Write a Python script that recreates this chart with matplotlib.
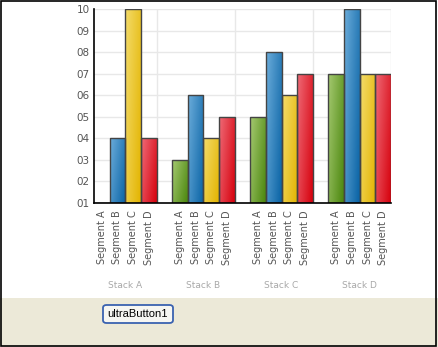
import numpy as np
import matplotlib
matplotlib.use('Agg')
import matplotlib.pyplot as plt
from matplotlib.patches import Rectangle, FancyBboxPatch
from matplotlib.colors import to_rgb
import matplotlib.transforms as mtransforms

# data
stacks = ['Stack A', 'Stack B', 'Stack C', 'Stack D']
segments = ['Segment A', 'Segment B', 'Segment C', 'Segment D']
seg_a = [0.1, 0.3, 0.5, 0.7]
seg_b = [0.4, 0.6, 0.8, 1.0]
seg_c = [1.0, 0.4, 0.6, 0.7]
seg_d = [0.4, 0.5, 0.7, 0.7]
yticks = [0.1, 0.2, 0.3, 0.4, 0.5, 0.6, 0.7, 0.8, 0.9, 1.0]
ytick_labels = ['01', '02', '03', '04', '05', '06', '07', '08', '09', '10']
ymin = 0.1

# light / dark ends of the bar gradients
shades = [('#a6ca72', '#4a860c'),
          ('#6caddb', '#0862a4'),
          ('#f4dc6c', '#e3b400'),
          ('#ef6c78', '#d6000c')]

W, H = 438, 347
fig = plt.figure(figsize=(W / 100, H / 100), dpi=100)
fig.patch.set_facecolor('white')

# beige strip at the bottom and the outer frame
fig.patches.append(Rectangle((0, 0), 1, (H - 298) / H, transform=fig.transFigure,
                             facecolor='#ece9d8', edgecolor='none', zorder=0))
fig.patches.append(Rectangle((0.5 / W, 1.5 / H), (W - 2.5) / W, (H - 2.5) / H,
                             transform=fig.transFigure, facecolor='none',
                             edgecolor='black', lw=1.2, zorder=5))

ax = fig.add_axes([94 / W, 1 - 203 / H, 297 / W, 194 / H])

grad = np.linspace(0, 1, 64)
gx, gy = np.meshgrid(grad, grad[::-1])
t = np.clip(0.65 * gx + 0.35 * (1 - gy), 0, 1)

series = [seg_a, seg_b, seg_c, seg_d]
for k, vals in enumerate(series):
    lo, hi = np.array(to_rgb(shades[k][0])), np.array(to_rgb(shades[k][1]))
    img = lo[None, None, :] * (1 - t[..., None]) + hi[None, None, :] * t[..., None]
    xs = [5 * g + k + 1.5 for g in range(len(stacks))]
    heights = [v - ymin for v in vals]
    bars = ax.bar(xs, heights, width=1.0, bottom=ymin, facecolor='none',
                  edgecolor='#444444', linewidth=1.0, zorder=3)
    for b in bars:
        if b.get_height() <= 0:
            continue
        x0, y0 = b.get_x(), b.get_y()
        im = ax.imshow(img, extent=(x0, x0 + b.get_width(), y0, y0 + b.get_height()),
                       aspect='auto', zorder=2, interpolation='bilinear')
        im.set_clip_path(b)

ax.set_xlim(1, 20)
ax.set_ylim(ymin, 1.0)
ax.set_yticks(yticks)
ax.set_yticklabels(ytick_labels)
ax.set_xticks([5 * g + k + 1.5 for g in range(4) for k in range(4)])
ax.set_xticklabels(segments * 4, rotation=90)
ax.tick_params(axis='both', length=0, colors='#555555', labelsize=7)
ax.tick_params(axis='y', pad=3, labelsize=7.5)
ax.tick_params(axis='x', pad=5)

for v in yticks:
    ax.axhline(v, color='#e8e8e8', lw=1, zorder=1)
for v in [5, 10, 15, 20]:
    ax.axvline(v, color='#e8e8e8', lw=1, zorder=1)

ax.spines['top'].set_visible(False)
ax.spines['right'].set_visible(False)
for s in ['left', 'bottom']:
    ax.spines[s].set_color('black')
    ax.spines[s].set_linewidth(1.2)
    ax.spines[s].set_zorder(4)

# group captions under the segment labels
trans = mtransforms.blended_transform_factory(ax.transData, fig.transFigure)
for g, name in enumerate(stacks):
    ax.text(5 * g + 3, 1 - 286 / H, name, transform=trans, ha='center',
            va='center', fontsize=6.5, color='#a8a8a8')

# the button
btn = FancyBboxPatch((103 / W, 1 - 323 / H), 70 / W, 18 / H,
                     boxstyle='round,pad=0,rounding_size=0.008',
                     transform=fig.transFigure, facecolor='#f6f6f2',
                     edgecolor='#3a62b0', lw=1.3, zorder=3)
fig.patches.append(btn)
fig.text(138 / W, 1 - 314 / H, 'ultraButton1', ha='center', va='center',
         fontsize=8, family='Liberation Sans', color='black', zorder=4)

fig.savefig('out.png', dpi=100)
